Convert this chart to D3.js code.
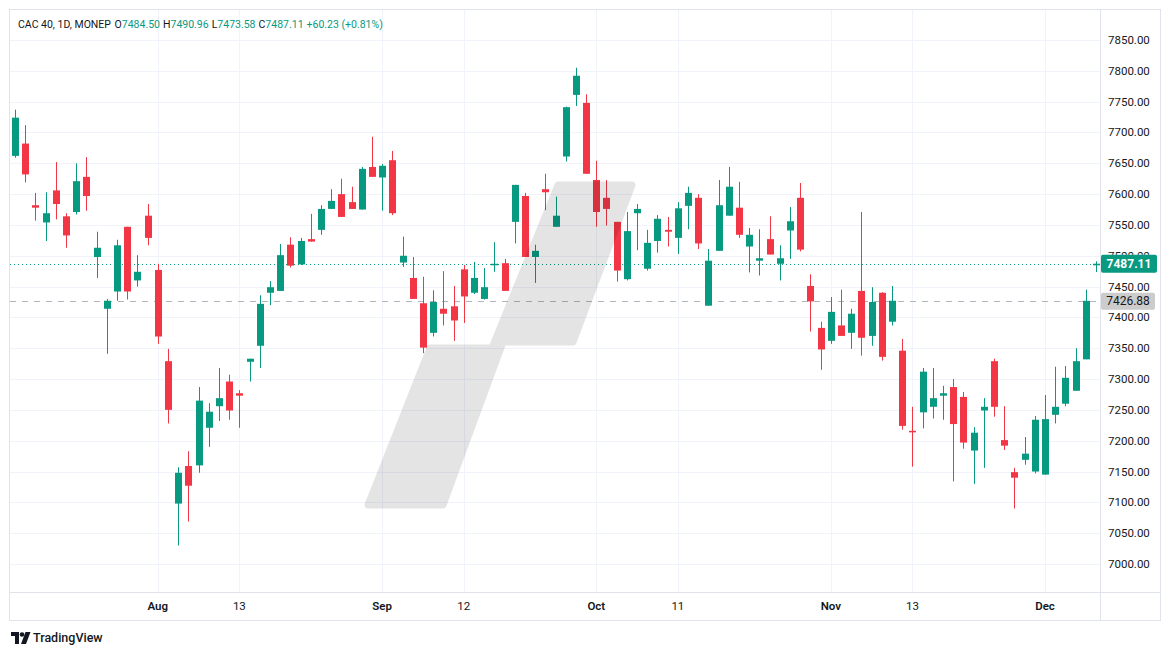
<!DOCTYPE html>
<html><head><meta charset="utf-8">
<script src="https://cdn.jsdelivr.net/npm/d3@7"></script>
<style>html,body{margin:0;padding:0;background:#fff;}svg{display:block;font-family:Roboto,"Noto Sans",sans-serif;}</style>
</head><body><svg id="c" width="1171" height="657"></svg>
<script>
const dates = [
"2024-07-12","2024-07-15","2024-07-16","2024-07-17","2024-07-18","2024-07-19","2024-07-22","2024-07-23","2024-07-24","2024-07-25","2024-07-26","2024-07-29","2024-07-30","2024-07-31",
"2024-08-01","2024-08-02","2024-08-05","2024-08-06","2024-08-07","2024-08-08","2024-08-09","2024-08-12","2024-08-13","2024-08-14","2024-08-15","2024-08-16","2024-08-19","2024-08-20","2024-08-21","2024-08-22","2024-08-23","2024-08-26","2024-08-27","2024-08-28","2024-08-29","2024-08-30",
"2024-09-02","2024-09-03","2024-09-04","2024-09-05","2024-09-06","2024-09-09","2024-09-10","2024-09-11","2024-09-12","2024-09-13","2024-09-16","2024-09-17","2024-09-18","2024-09-19","2024-09-20","2024-09-23","2024-09-24","2024-09-25","2024-09-26","2024-09-27","2024-09-30",
"2024-10-01","2024-10-02","2024-10-03","2024-10-04","2024-10-07","2024-10-08","2024-10-09","2024-10-10","2024-10-11","2024-10-14","2024-10-15","2024-10-16","2024-10-17","2024-10-18","2024-10-21","2024-10-22","2024-10-23","2024-10-24","2024-10-25","2024-10-28","2024-10-29","2024-10-30","2024-10-31",
"2024-11-01","2024-11-04","2024-11-05","2024-11-06","2024-11-07","2024-11-08","2024-11-11","2024-11-12","2024-11-13","2024-11-14","2024-11-15","2024-11-18","2024-11-19","2024-11-20","2024-11-21","2024-11-22","2024-11-25","2024-11-26","2024-11-27","2024-11-28","2024-11-29",
"2024-12-02","2024-12-03","2024-12-04","2024-12-05","2024-12-06","2024-12-09"];
const open  = [7662,7682,7582,7554,7606,7564,7571,7628,7498,7414,7442,7547,7460,7565,
7477,7329,7098,7159,7160,7221,7256,7296,7277,7328,7354,7440,7443,7518,7486,7527,7542,7576,7600,7587,7575,7644,
7627,7655,7489,7464,7423,7375,7414,7418,7478,7440,7430,7485,7488,7555,7597,7498,7608,7547,7661,7761,7748,
7623,7594,7555,7462,7569,7479,7524,7542,7529,7581,7594,7419,7508,7565,7578,7515,7492,7527,7487,7541,7594,7451,7383,
7362,7387,7375,7443,7370,7440,7393,7346,7216,7246,7255,7273,7287,7271,7184,7249,7329,7201,7149,7169,7150,
7145,7242,7260,7281,7332,7484.50];
const high  = [7737,7712,7602,7603,7652,7569,7650,7660,7539,7430,7526,7547,7501,7584,
7487,7349,7157,7183,7287,7261,7318,7307,7282,7333,7436,7459,7519,7530,7529,7568,7582,7608,7625,7612,7644,7693,
7649,7670,7531,7498,7466,7444,7475,7451,7485,7490,7480,7522,7495,7615,7602,7518,7633,7596,7742,7805,7762,
7654,7623,7555,7571,7584,7542,7566,7563,7587,7612,7600,7511,7623,7644,7620,7545,7543,7564,7517,7579,7618,7470,7393,
7433,7445,7414,7571,7449,7441,7451,7365,7255,7318,7318,7289,7300,7279,7222,7269,7333,7256,7156,7206,7240,
7274,7320,7321,7350,7445,7490.96];
const low   = [7659,7619,7557,7524,7559,7513,7567,7573,7464,7341,7427,7429,7450,7517,
7357,7228,7030,7069,7148,7190,7232,7234,7221,7296,7318,7420,7443,7481,7485,7523,7534,7576,7563,7576,7575,7628,
7573,7566,7482,7430,7342,7369,7387,7362,7391,7438,7429,7474,7443,7520,7498,7456,7574,7547,7653,7743,7633,
7547,7549,7458,7460,7509,7476,7505,7515,7503,7543,7511,7419,7508,7565,7529,7473,7468,7502,7460,7495,7507,7377,7315,
7357,7370,7349,7338,7354,7330,7387,7218,7158,7220,7236,7234,7134,7187,7130,7156,7239,7185,7090,7161,7147,
7145,7228,7256,7281,7332,7473.58];
const close = [7724,7632,7578,7569,7584,7533,7621,7597,7513,7427,7517,7442,7474,7529,
7369,7250,7148,7127,7265,7247,7269,7249,7273,7333,7422,7449,7501,7484,7524,7523,7576,7589,7563,7576,7641,7628,
7646,7569,7500,7430,7351,7425,7406,7395,7434,7464,7449,7487,7443,7615,7498,7508,7603,7565,7741,7792,7633,
7571,7576,7476,7540,7576,7521,7560,7539,7577,7602,7520,7492,7582,7612,7534,7534,7496,7502,7496,7556,7510,7426,7348,
7409,7370,7406,7367,7425,7336,7427,7224,7214,7312,7269,7277,7227,7197,7213,7255,7255,7192,7140,7179,7234,
7235,7255,7302,7329,7426.88,7487.11];
const priceTicks = [7000,7050,7100,7150,7200,7250,7300,7350,7400,7450,7500,7550,7600,7650,7700,7750,7800,7850];
const timeTickDates  = ["2024-08-01","2024-08-13","2024-09-02","2024-09-12","2024-10-01","2024-10-11","2024-11-01","2024-11-13","2024-12-02"];
const timeTickLabels = ["Aug","13","Sep","12","Oct","11","Nov","13","Dec"];
const lastPrice = 7487.11, prevClose = 7426.88;
const title = "CAC 40, 1D, MONEP";
const ohlcLabels = ["O","H","L","C"];
const ohlcValues = ["7484.50","7490.96","7473.58","7487.11"];
const changeText = "+60.23 (+0.81%)";

const UP = "#089981", DOWN = "#f23645", TXT = "#131722", GRID = "#f0f3fa";
const svg = d3.select("#c");
const paneL = 10, paneR = 1100, paneT = 10, paneB = 592, frameR = 1160, frameB = 620;
const y = d3.scaleLinear().domain([7000, 7850]).range([564, 40]);
const x = d3.scalePoint().domain(dates).range([15, 1096]);

svg.append("rect").attr("width",1171).attr("height",657).attr("fill","#fff");
// grid
svg.append("g").selectAll("line").data(priceTicks).join("line")
  .attr("x1",paneL).attr("x2",paneR).attr("y1",d=>Math.round(y(d))+0.5).attr("y2",d=>Math.round(y(d))+0.5)
  .attr("stroke",GRID).attr("stroke-width",1);
svg.append("g").selectAll("line").data(timeTickDates).join("line")
  .attr("x1",d=>Math.round(x(d))+0.5).attr("x2",d=>Math.round(x(d))+0.5).attr("y1",paneT).attr("y2",paneB)
  .attr("stroke",GRID).attr("stroke-width",1);

// price lines
svg.append("line").attr("x1",paneL).attr("x2",paneR).attr("y1",Math.round(y(lastPrice))+0.5).attr("y2",Math.round(y(lastPrice))+0.5)
  .attr("stroke",UP).attr("stroke-width",1).attr("stroke-dasharray","1,3");
svg.append("line").attr("x1",paneL).attr("x2",paneR).attr("y1",Math.round(y(prevClose))+0.5).attr("y2",Math.round(y(prevClose))+0.5)
  .attr("stroke","#b2b5be").attr("stroke-width",1).attr("stroke-dasharray","6,6");

// candles
const idx = d3.range(dates.length);
const cg = svg.append("g");
cg.selectAll("line").data(idx).join("line")
  .attr("x1",i=>Math.round(x(dates[i]))+0.5).attr("x2",i=>Math.round(x(dates[i]))+0.5)
  .attr("y1",i=>y(high[i])).attr("y2",i=>y(low[i]))
  .attr("stroke",i=>close[i]>=open[i]?UP:DOWN).attr("stroke-width",1);
cg.selectAll("rect").data(idx).join("rect")
  .attr("x",i=>Math.round(x(dates[i]))-3).attr("width",7)
  .attr("y",i=>y(Math.max(open[i],close[i])))
  .attr("height",i=>Math.max(1.5,Math.abs(y(open[i])-y(close[i]))))
  .attr("fill",i=>close[i]>=open[i]?UP:DOWN);

// watermark
const wm = svg.append("g").attr("opacity",0.1);
wm.append("path")
  .attr("d","M558,185 L632,185 L573,342 L503,342 L443,505 L368,505 L430,348 L492,348 Z")
  .attr("fill","#000").attr("stroke","#000").attr("stroke-width",7).attr("stroke-linejoin","round");

// frame and separators
svg.append("rect").attr("x",paneL-0.5).attr("y",paneT-0.5).attr("width",frameR-paneL+1).attr("height",frameB-paneT+1)
  .attr("fill","none").attr("stroke","#e0e3eb");
svg.append("line").attr("x1",paneL).attr("x2",frameR).attr("y1",paneB+0.5).attr("y2",paneB+0.5).attr("stroke","#e0e3eb");
svg.append("line").attr("x1",paneR+0.5).attr("x2",paneR+0.5).attr("y1",paneT).attr("y2",frameB).attr("stroke","#e0e3eb");

// price axis labels (the one under the last-price box is clipped, as in the reference)
const clipTop = y(lastPrice) - 9;
svg.append("clipPath").attr("id","axisClip").append("path")
  .attr("d",`M1101,${paneT} H${frameR} V${clipTop} H1101 Z M1101,${clipTop+18} H${frameR} V${paneB} H1101 Z`);
svg.append("g").attr("clip-path","url(#axisClip)").selectAll("text").data(priceTicks).join("text")
  .attr("x",1108).attr("y",d=>y(d)).attr("dy","0.35em")
  .attr("font-size",11.5).attr("fill",TXT).text(d=>d.toFixed(2));

// time axis labels
svg.append("g").selectAll("text").data(timeTickDates).join("text")
  .attr("x",d=>x(d)).attr("y",606).attr("dy","0.35em").attr("text-anchor","middle")
  .attr("font-size",11.5).attr("fill",TXT)
  .attr("font-weight",(d,i)=>isNaN(+timeTickLabels[i])?600:400)
  .text((d,i)=>timeTickLabels[i]);

// last price labels
const lp = svg.append("g");
lp.append("rect").attr("x",1101).attr("y",y(lastPrice)-9).attr("width",56).attr("height",18).attr("rx",2).attr("fill",UP);
lp.append("text").attr("x",1129).attr("y",y(lastPrice)).attr("dy","0.35em").attr("text-anchor","middle")
  .attr("font-size",12).attr("font-weight",700).attr("fill","#fff").text(lastPrice.toFixed(2));
lp.append("rect").attr("x",1101).attr("y",y(prevClose)-8).attr("width",54).attr("height",17).attr("rx",2).attr("fill","#cccccc");
lp.append("text").attr("x",1128).attr("y",y(prevClose)).attr("dy","0.35em").attr("text-anchor","middle")
  .attr("font-size",12).attr("fill",TXT).text(prevClose.toFixed(2));

// header
const ht = svg.append("text").attr("x",18).attr("y",24).attr("dy","0.35em").attr("font-size",10.5);
ht.append("tspan").attr("fill",TXT).text(title+" ");
ohlcLabels.forEach((l,i)=>{
  ht.append("tspan").attr("fill",TXT).attr("dx",i===0?1:3).text(l);
  ht.append("tspan").attr("fill",UP).text(ohlcValues[i]);
});
ht.append("tspan").attr("fill",UP).attr("dx",3).text(changeText);

// TradingView logo
const lg = svg.append("g").attr("transform","translate(11,632)");
lg.append("path").attr("d","M0,0 H8 V12 H4 V4 H0 Z").attr("fill",TXT);
lg.append("circle").attr("cx",11).attr("cy",2.5).attr("r",2.3).attr("fill",TXT);
lg.append("path").attr("d","M14.5,0 H19.5 L15,12 H10 Z").attr("fill",TXT);
svg.append("text").attr("x",33).attr("y",638).attr("dy","0.35em").attr("font-size",12.5).attr("font-weight",500)
  .attr("fill",TXT).text("TradingView");
</script></body></html>
